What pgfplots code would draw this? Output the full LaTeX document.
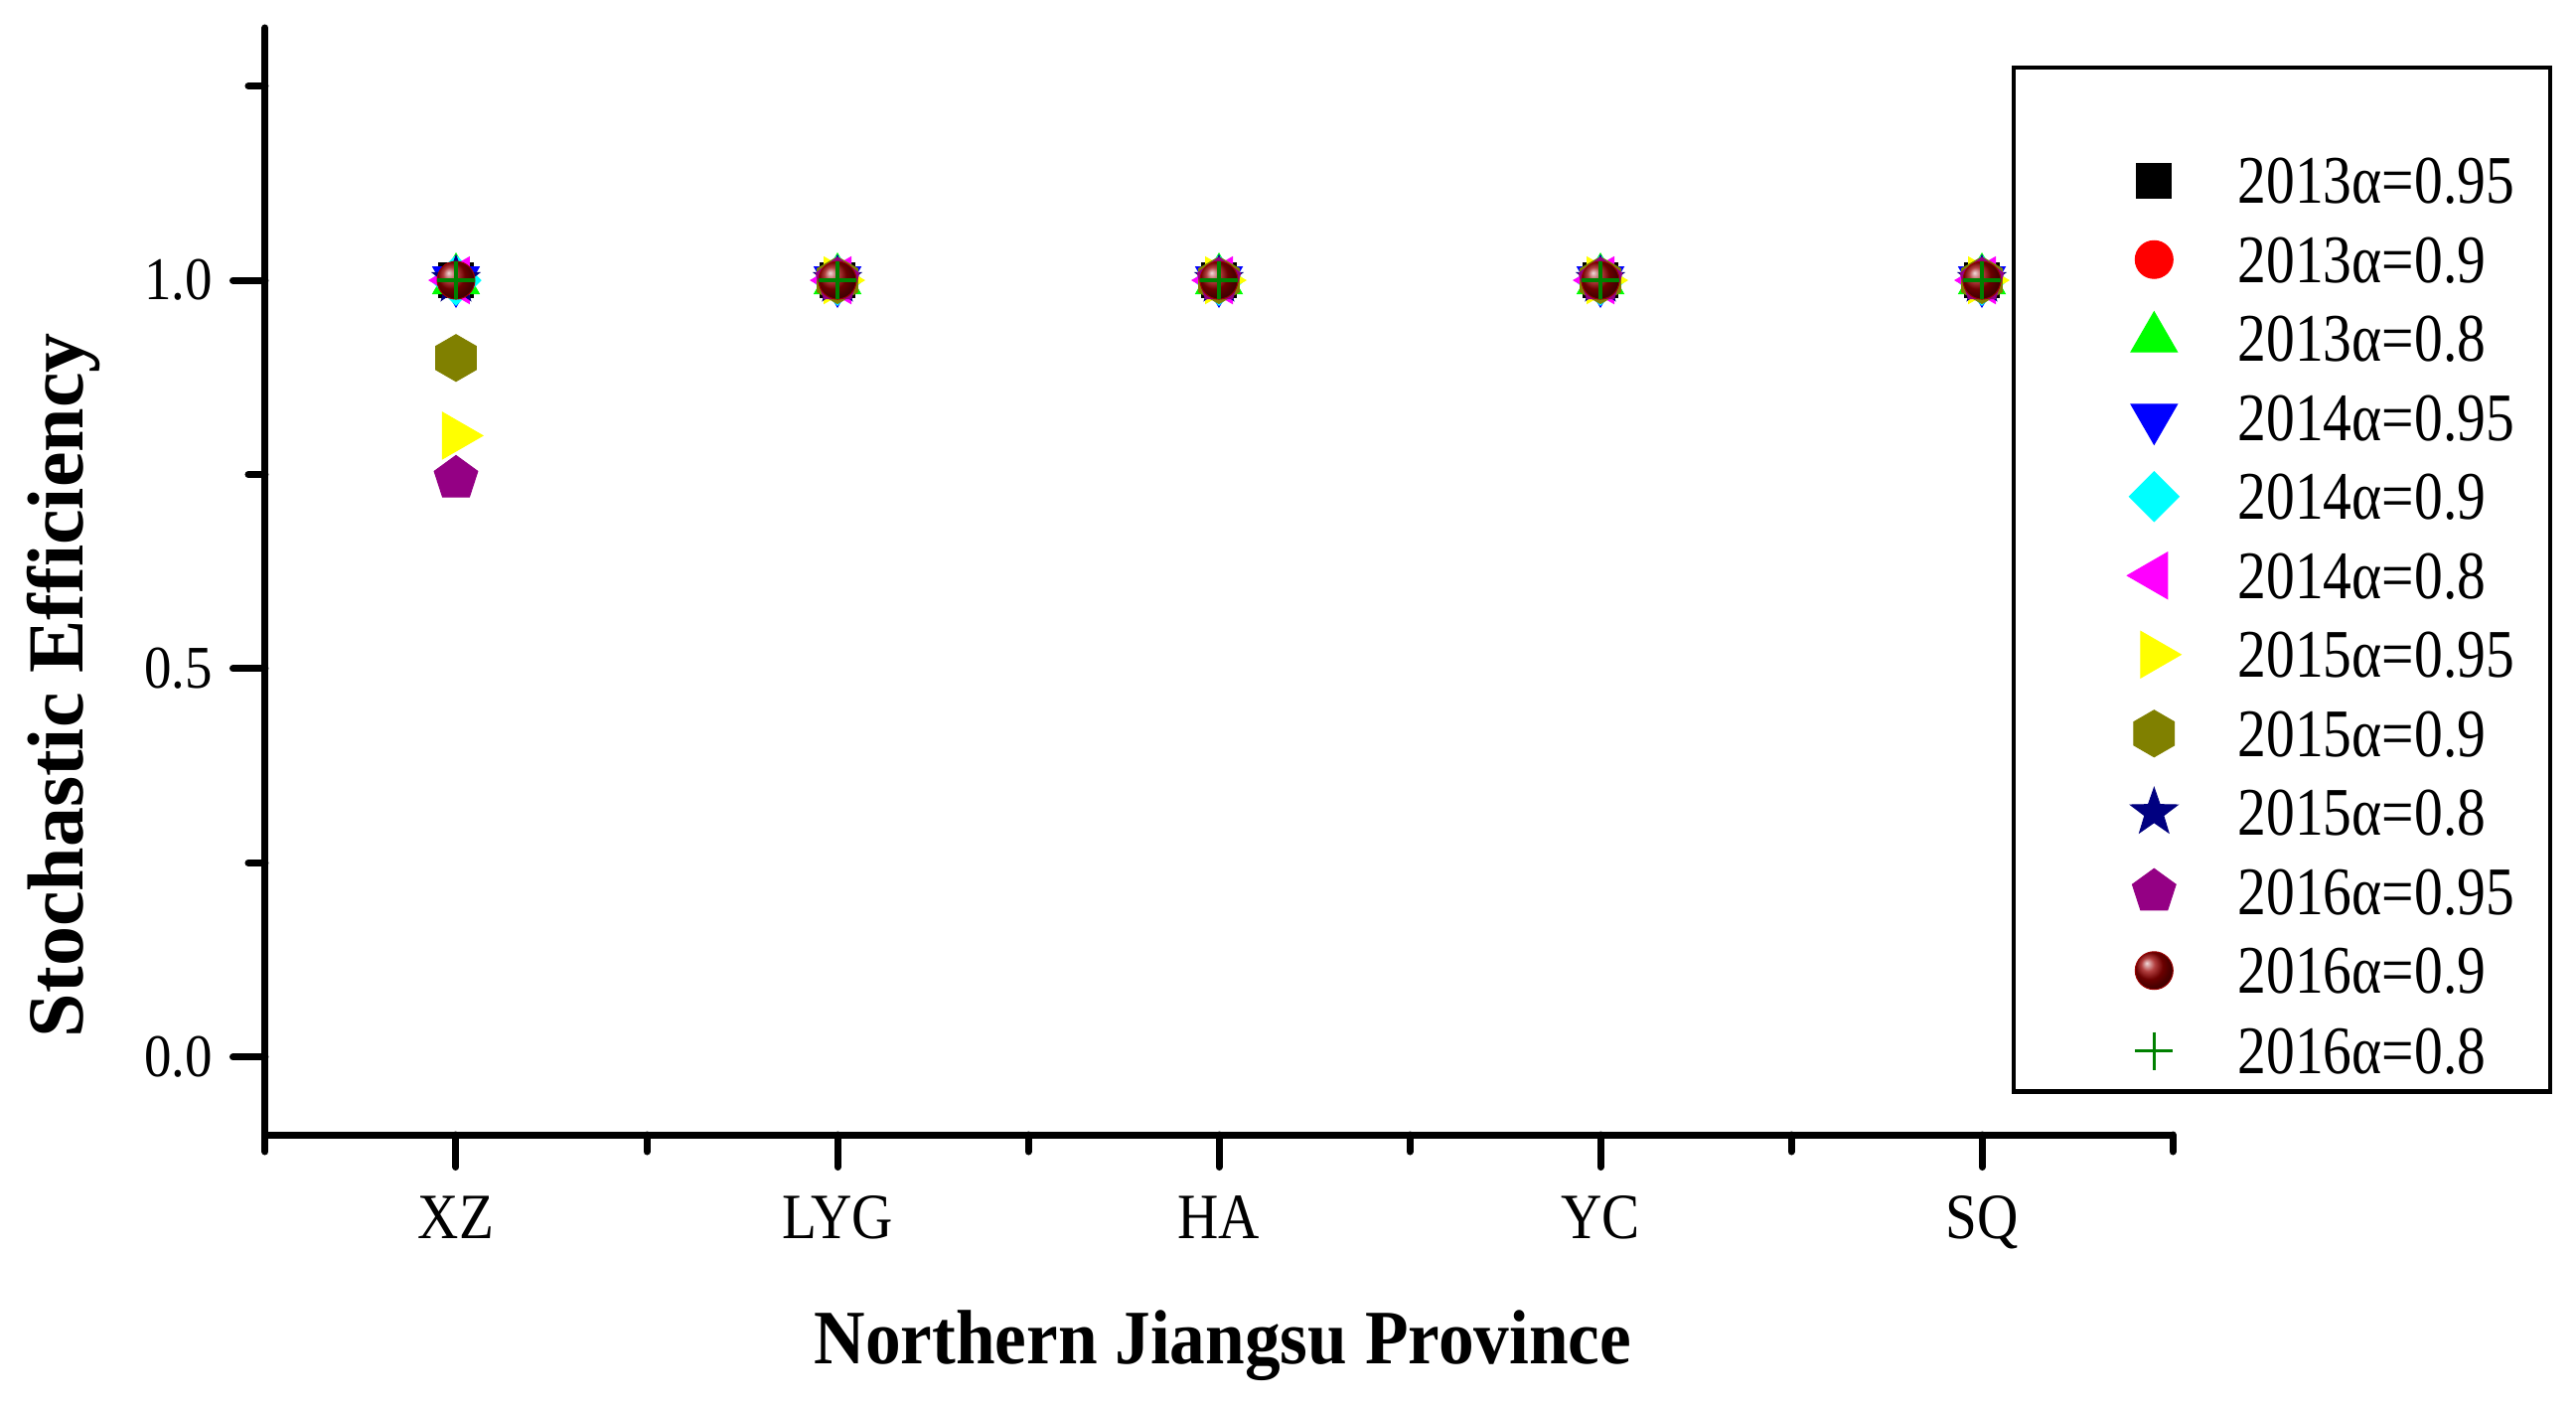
\documentclass[border=0pt]{standalone}
\usepackage{fontspec}
\setmainfont{Liberation Serif}
\newfontfamily\tickfont{Liberation Serif}[FakeStretch=0.9]
\newfontfamily\xtickfont{Liberation Serif}[FakeStretch=0.88]
\newfontfamily\legfont{Liberation Serif}[FakeStretch=0.84]
\newfontfamily\xlabfont{Liberation Serif}[FakeStretch=0.92]
\newfontfamily\ylabfont{Liberation Serif}[FakeStretch=1.0]
\usepackage{pgfplots}
\pgfplotsset{compat=1.18}
\usetikzlibrary{plotmarks}

\definecolor{cblack}{RGB}{0,0,0}
\definecolor{cred}{RGB}{255,0,0}
\definecolor{cgreen}{RGB}{0,255,0}
\definecolor{cblue}{RGB}{0,0,255}
\definecolor{ccyan}{RGB}{0,255,255}
\definecolor{cmagenta}{RGB}{255,0,255}
\definecolor{cyellow}{RGB}{255,255,0}
\definecolor{colive}{RGB}{128,128,0}
\definecolor{cnavy}{RGB}{0,0,128}
\definecolor{cpurple}{RGB}{148,0,132}
\definecolor{cwine}{RGB}{153,0,0}
\definecolor{cdkgreen}{RGB}{0,128,0}

% marks that pgf does not have
\pgfdeclareplotmark{hexa*}{%
  \pgfpathmoveto{\pgfqpointpolar{90}{\pgfplotmarksize}}%
  \pgfpathlineto{\pgfqpointpolar{150}{\pgfplotmarksize}}%
  \pgfpathlineto{\pgfqpointpolar{210}{\pgfplotmarksize}}%
  \pgfpathlineto{\pgfqpointpolar{270}{\pgfplotmarksize}}%
  \pgfpathlineto{\pgfqpointpolar{330}{\pgfplotmarksize}}%
  \pgfpathlineto{\pgfqpointpolar{30}{\pgfplotmarksize}}%
  \pgfpathclose\pgfusepathqfillstroke}
\pgfdeclareplotmark{rhomb*}{%
  \pgfpathmoveto{\pgfqpoint{0pt}{\pgfplotmarksize}}%
  \pgfpathlineto{\pgfqpoint{\pgfplotmarksize}{0pt}}%
  \pgfpathlineto{\pgfqpoint{0pt}{-\pgfplotmarksize}}%
  \pgfpathlineto{\pgfqpoint{-\pgfplotmarksize}{0pt}}%
  \pgfpathclose\pgfusepathqfillstroke}
\pgfdeclareplotmark{fstar*}{%
  \pgfpathmoveto{\pgfqpointpolar{90}{\pgfplotmarksize}}%
  \pgfpathlineto{\pgfqpointpolar{126}{0.4\pgfplotmarksize}}%
  \pgfpathlineto{\pgfqpointpolar{162}{\pgfplotmarksize}}%
  \pgfpathlineto{\pgfqpointpolar{198}{0.4\pgfplotmarksize}}%
  \pgfpathlineto{\pgfqpointpolar{234}{\pgfplotmarksize}}%
  \pgfpathlineto{\pgfqpointpolar{270}{0.4\pgfplotmarksize}}%
  \pgfpathlineto{\pgfqpointpolar{306}{\pgfplotmarksize}}%
  \pgfpathlineto{\pgfqpointpolar{342}{0.4\pgfplotmarksize}}%
  \pgfpathlineto{\pgfqpointpolar{18}{\pgfplotmarksize}}%
  \pgfpathlineto{\pgfqpointpolar{54}{0.4\pgfplotmarksize}}%
  \pgfpathclose\pgfusepathqfillstroke}

\pgfplotsset{
  pt/.style={only marks, line width=0.2pt,
    legend image code/.code={%
      \path (-27.8pt,-7.85pt) (10pt,7.85pt);
      \draw[##1] plot coordinates {(0pt,0pt)};}},
}

\begin{document}
\begin{tikzpicture}
\path[use as bounding box] (-53.4pt,-55.4pt) rectangle (465.2pt,228.4pt);
\begin{axis}[
  scale only axis,
  width=384pt, height=222.8pt,
  xmin=-0.5, xmax=4.5,
  ymin=-0.1, ymax=1.325,
  axis lines=left,
  axis line style={-, line width=1.4pt, line cap=round},
  tick align=outside,
  major tick length=6.5pt, minor tick length=3.4pt,
  every tick/.style={black, line width=1.4pt, line cap=round},
  xtick={0,1,2,3,4},
  xticklabels={XZ,LYG,HA,YC,SQ},
  minor xtick={-0.5,0.5,1.5,2.5,3.5,4.5},
  ytick={0,0.5,1},
  minor ytick={0.25,0.75,1.25},
  /pgf/number format/assume math mode=true,
  yticklabel={\pgfmathprintnumber[fixed,fixed zerofill,precision=1]{\tick}},
  xticklabel style={font=\xtickfont\fontsize{13}{13}\selectfont, anchor=base, inner sep=0pt, yshift=-14.3pt},
  yticklabel style={font=\tickfont\fontsize{12.2}{12}\selectfont, anchor=east, inner sep=0pt, xshift=-3.9pt},
  xlabel={Northern Jiangsu Province},
  ylabel={Stochastic Efficiency},
  xlabel style={at={(axis description cs:0.502,-0.2065)}, anchor=base,
    font=\xlabfont\bfseries\fontsize{15.5}{16}\selectfont},
  ylabel style={at={(axis description cs:-0.0958,0.406)}, anchor=base,
    font=\ylabfont\bfseries\fontsize{16}{16}\selectfont},
  legend cell align=left,
  legend style={at={(0.9167,0.9641)}, anchor=north west,
    draw=black, line width=0.9pt, inner sep=0pt, outer sep=0pt,
    row sep=0pt, column sep=6.4pt,
    nodes={inner sep=0pt, outer sep=0pt, text depth=0pt, text width=62.9pt, draw=none},
    font=\legfont\fontsize{13.7}{14}\selectfont},
]
\addlegendimage{legend image code/.code={\path (-27.8pt,-6pt) (10pt,7.9pt);}}
\addlegendentry{}

\addplot[pt, mark=square*, mark size=3.5pt, color=cblack]
  coordinates {(0,1) (1,1) (2,1) (3,1) (4,1)};
\addlegendentry{2013α=0.95}
\addplot[pt, mark=*, mark size=3.8pt, color=cred]
  coordinates {(0,1) (1,1) (2,1) (3,1) (4,1)};
\addlegendentry{2013α=0.9}
\addplot[pt, mark=triangle*, mark size=5.4pt, color=cgreen]
  coordinates {(0,1) (1,1) (2,1) (3,1) (4,1)};
\addlegendentry{2013α=0.8}
\addplot[pt, mark=triangle*, mark size=5.4pt, mark options={rotate=180}, color=cblue]
  coordinates {(0,1) (1,1) (2,1) (3,1) (4,1)};
\addlegendentry{2014α=0.95}
\addplot[pt, mark=rhomb*, mark size=5pt, color=ccyan]
  coordinates {(0,1) (1,1) (2,1) (3,1) (4,1)};
\addlegendentry{2014α=0.9}
\addplot[pt, mark=triangle*, mark size=5.4pt, mark options={rotate=90}, color=cmagenta]
  coordinates {(0,1) (1,1) (2,1) (3,1) (4,1)};
\addlegendentry{2014α=0.8}
\addplot[pt, mark=triangle*, mark size=5.4pt, mark options={rotate=-90}, color=cyellow]
  coordinates {(0,0.80) (1,1) (2,1) (3,1) (4,1)};
\addlegendentry{2015α=0.95}
\addplot[pt, mark=hexa*, mark size=4.7pt, color=colive]
  coordinates {(0,0.90) (1,1) (2,1) (3,1) (4,1)};
\addlegendentry{2015α=0.9}
\addplot[pt, mark=fstar*, mark size=5pt, color=cnavy]
  coordinates {(0,1) (1,1) (2,1) (3,1) (4,1)};
\addlegendentry{2015α=0.8}
\addplot[pt, mark=pentagon*, mark size=4.6pt, color=cpurple]
  coordinates {(0,0.745) (1,1) (2,1) (3,1) (4,1)};
\addlegendentry{2016α=0.95}
\addplot[pt, mark=ball, mark size=3.8pt, ball color=cwine, color=cwine]
  coordinates {(0,1) (1,1) (2,1) (3,1) (4,1)};
\addlegendentry{2016α=0.9}
\addplot[pt, mark=+, mark size=3.8pt, line width=0.7pt, color=cdkgreen]
  coordinates {(0,1) (1,1) (2,1) (3,1) (4,1)};
\addlegendentry{2016α=0.8}
\end{axis}
\end{tikzpicture}
\end{document}
